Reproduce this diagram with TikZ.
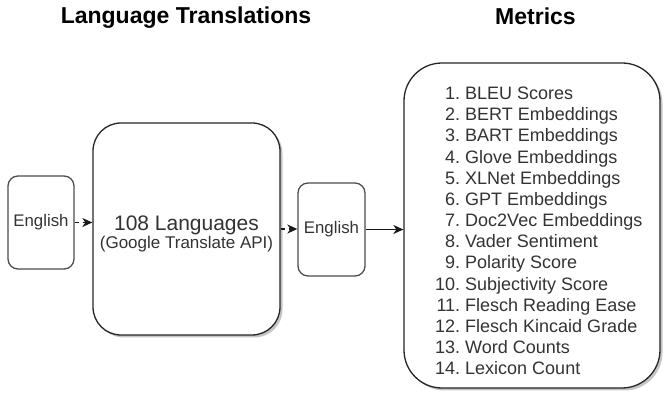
\documentclass[tikz,border=0pt]{standalone}
\usepackage{fontspec}
\setmainfont{Liberation Sans}
\usetikzlibrary{arrows.meta,shadows}
\begin{document}
\begin{tikzpicture}[x=1pt,y=-1pt,
  enbox/.style={draw=black!70, line width=1.3pt, rounded corners=10pt, inner sep=0pt,
    minimum width=66pt, minimum height=93pt, font=\fontsize{16.8}{20}\selectfont, text=black!80},
  bigbox/.style={draw=black!85, line width=1.3pt, inner sep=0pt, fill=white, text=black!80,
    drop shadow={shadow xshift=2.5pt, shadow yshift=-2.5pt, fill=black!45, opacity=0.5}},
  title/.style={font=\fontsize{23}{26}\selectfont\bfseries, anchor=base, inner sep=0pt},
  conn/.style={line width=1.3pt, draw=black!90, -{Stealth[length=10pt,width=9pt,inset=3pt]}},
]
\useasboundingbox (0,0) rectangle (665,398);

\node[title] (t1) at (186,24) {Language Translations};
\node[title] (t2) at (535.5,24.5) {Metrics};

\node[enbox] (en1) at (41,222.5) {English};
\node[bigbox, rounded corners=28pt, minimum width=187pt, minimum height=212pt, align=center]
  (big) at (186.5,229)
  {\rule{0pt}{24pt}\fontsize{21}{20}\selectfont 108 Languages\\\fontsize{17}{20}\selectfont (Google Translate API)};
\node[enbox, minimum width=67pt] (en2) at (331.5,229.5) {English};
\node[bigbox, rounded corners=38pt, minimum width=256pt, minimum height=325pt] (met) at (532,225.5) {};
\node[anchor=west, inner sep=0pt, text=black!80, font=\fontsize{18}{21.15}\selectfont] (list) at (435,232.9)
{\begin{tabular}{@{}r@{\ }l@{}}
1. & BLEU Scores\\
2. & BERT Embeddings\\
3. & BART Embeddings\\
4. & Glove Embeddings\\
5. & XLNet Embeddings\\
6. & GPT Embeddings\\
7. & Doc2Vec Embeddings\\
8. & Vader Sentiment\\
9. & Polarity Score\\
10. & Subjectivity Score\\
11. & Flesch Reading Ease\\
12. & Flesch Kincaid Grade\\
13. & Word Counts\\
14. & Lexicon Count
\end{tabular}};

\draw[conn, dash pattern=on 4pt off 4pt] (en1.east) -- (en1.east -| big.west);
\draw[conn, dash pattern=on 4pt off 4pt] (big.east) -- (big.east -| en2.west);
\draw[conn] (en2.east) -- (en2.east -| met.west);
\end{tikzpicture}
\end{document}
